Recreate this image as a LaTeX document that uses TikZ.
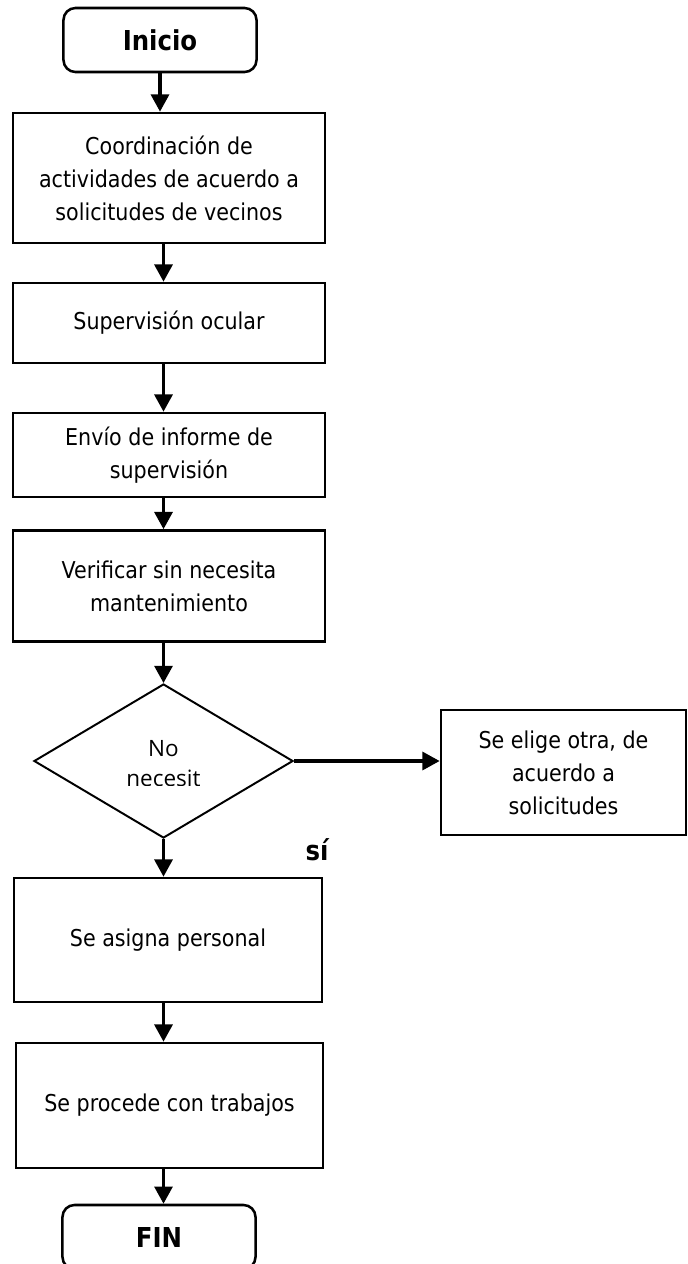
\documentclass[tikz,border=0pt]{standalone}
\usepackage{fontspec}
\setmainfont{DejaVu Sans}[FakeStretch=0.89]
\newfontfamily\diafont{Open Sans}
\usetikzlibrary{shapes.geometric}
\usetikzlibrary{arrows.meta}

\begin{document}
\begin{tikzpicture}[x=0.025cm, y=-0.025cm,
    caja/.style={draw, line width=1.9pt, align=center, inner sep=0pt,
      font=\fontsize{16.5}{23.5}\selectfont},
    extremo/.style={draw, line width=1.8pt, rounded corners=0.3cm,
      minimum width=4.825cm, minimum height=1.6cm,
      font=\fontsize{19.5}{23}\selectfont\bfseries},
    rombo/.style={draw, diamond, line width=1.4pt, inner sep=0pt,
      minimum width=6.475cm, minimum height=3.85cm},
    flecha/.style={line width=2.2pt, -{Triangle[length=0.43cm,width=0.45cm]}}]
  \path[use as bounding box] (0, 0) rectangle (687, 1264);

  \node[extremo] (ini) at (160, 40) {Inicio};
  \node[caja, minimum width=7.8cm, minimum height=3.25cm] (coord) at (169, 178)
    {Coordinación de\\actividades de acuerdo a\\solicitudes de vecinos};
  \node[caja, minimum width=7.8cm, minimum height=2cm] (superv) at (169, 323)
    {Supervisión ocular};
  \node[caja, minimum width=7.8cm, minimum height=2.1cm] (envio) at (169, 455)
    {Envío de informe de\\supervisión};
  \node[caja, minimum width=7.8cm, minimum height=2.775cm] (verif) at (169, 586)
    {Verificar sin necesita\\mantenimiento};

  \node[rombo] (dec) at (163.5, 761) {};
  \begin{scope}
    \clip (40, 700) rectangle (290, 785);
    \node[font=\diafont\fontsize{16}{21.3}\selectfont, align=center] (dtxt) at (163.5, 764)
      {No\\necesit};
  \end{scope}
  \node[caja, minimum width=6.125cm, minimum height=3.125cm] (otra) at (563.5, 772.5)
    {Se elige otra, de\\acuerdo a\\solicitudes};
  \node[font=\fontsize{19.5}{23}\selectfont\bfseries] (si) at (317, 850) {sí};

  \node[caja, minimum width=7.7cm, minimum height=3.1cm] (asigna) at (168, 940)
    {Se asigna personal};
  \node[caja, minimum width=7.675cm, minimum height=3.125cm] (procede) at (169.5, 1105.5)
    {Se procede con trabajos};
  \node[extremo] (fin) at (159, 1237) {FIN};

  \draw[flecha] (ini.south) -- (ini.south |- coord.north);
  \draw[flecha] (coord.south -| dec.north) -- (superv.north -| dec.north);
  \draw[flecha] (superv.south -| dec.north) -- (envio.north -| dec.north);
  \draw[flecha] (envio.south -| dec.north) -- (verif.north -| dec.north);
  \draw[flecha] (verif.south -| dec.north) -- (dec.north);
  \draw[flecha] (dec.east) -- (dec.east -| otra.west);
  \draw[flecha] (dec.south) -- (asigna.north -| dec.south);
  \draw[flecha] (asigna.south -| dec.south) -- (procede.north -| dec.south);
  \draw[flecha] (procede.south -| dec.south) -- (fin.north -| dec.south);
\end{tikzpicture}
\end{document}
